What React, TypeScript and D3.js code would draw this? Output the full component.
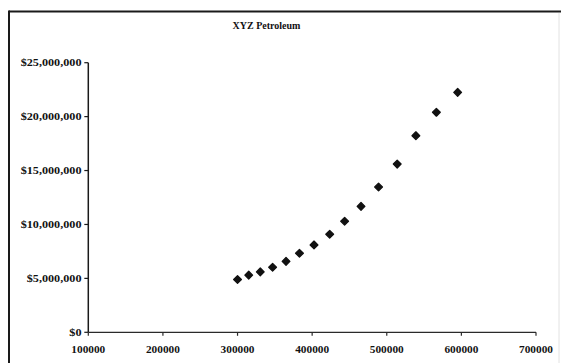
import React from "react";
import * as d3 from "d3";

// Production volume (x) vs. revenue in dollars (y)
const volumes = [
  300000, 315000, 330500, 347000, 365000, 383000, 402500, 423500,
  443500, 465500, 489000, 514000, 539000, 566500, 595000,
];
const revenues = [
  4900000, 5300000, 5600000, 6030000, 6580000, 7330000, 8100000, 9090000,
  10300000, 11680000, 13470000, 15600000, 18230000, 20400000, 22250000,
];
const xTicks = [100000, 200000, 300000, 400000, 500000, 600000, 700000];
const yTicks = [0, 5000000, 10000000, 15000000, 20000000, 25000000];
const title = "XYZ Petroleum";

const W = 563;
const H = 363;

export default function App() {
  const x = d3.scaleLinear().domain([100000, 700000]).range([88.3, 536]);
  const y = d3.scaleLinear().domain([0, 25000000]).range([332.3, 62.7]);
  const fmtMoney = (v: number) => "$" + d3.format(",")(v);
  const marker = d3.symbol().type(d3.symbolSquare).size(30)() as string;
  const font = "'Liberation Serif', 'Times New Roman', serif";

  return (
    <svg
      width={W}
      height={H}
      viewBox={`0 0 ${W} ${H}`}
      style={{ position: "absolute", left: 0, top: 0, background: "#fff" }}
    >
      <rect x={0} y={0} width={W} height={H} fill="#fff" />
      {/* chart frame */}
      <line x1={9} y1={11.5} x2={561} y2={11.5} stroke="#1a1a1a" strokeWidth={2} />
      <line x1={9} y1={10.5} x2={9} y2={H} stroke="#1a1a1a" strokeWidth={2} />
      <line x1={559} y1={13} x2={559} y2={H} stroke="#e2e2e2" strokeWidth={1} />

      <text
        x={266.5}
        y={28.5}
        textAnchor="middle"
        fontFamily={font}
        fontWeight="bold"
        fontSize={10}
        fill="#111"
      >
        {title}
      </text>

      {/* y axis */}
      <line x1={x(100000)} y1={y(25000000)} x2={x(100000)} y2={y(0)} stroke="#1a1a1a" strokeWidth={1.5} />
      {yTicks.map((t) => (
        <g key={t}>
          <line x1={x(100000) - 4} x2={x(100000)} y1={y(t)} y2={y(t)} stroke="#1a1a1a" strokeWidth={1.2} />
          <text
            transform={`translate(81.5,${y(t) + 3.4}) scale(1.16,1)`}
            textAnchor="end"
            fontFamily={font}
            fontWeight="bold"
            fontSize={10.5}
            fill="#111"
          >
            {fmtMoney(t)}
          </text>
        </g>
      ))}

      {/* x axis */}
      <line x1={x(100000)} y1={y(0)} x2={x(700000)} y2={y(0)} stroke="#2a2a2a" strokeWidth={1.2} />
      {xTicks.map((t) => (
        <g key={t}>
          <line x1={x(t)} x2={x(t)} y1={y(0)} y2={y(0) + 3.5} stroke="#2a2a2a" strokeWidth={1.2} />
          <text
            x={x(t)}
            y={352.5}
            textAnchor="middle"
            fontFamily={font}
            fontWeight="bold"
            fontSize={11.3}
            fill="#111"
          >
            {t}
          </text>
        </g>
      ))}

      {/* data points */}
      {volumes.map((v, i) => (
        <path
          key={i}
          d={marker}
          transform={`translate(${x(v)},${y(revenues[i])}) rotate(45)`}
          fill="#111"
          stroke="#111"
          strokeWidth={1.3}
          strokeLinejoin="round"
        />
      ))}
    </svg>
  );
}
